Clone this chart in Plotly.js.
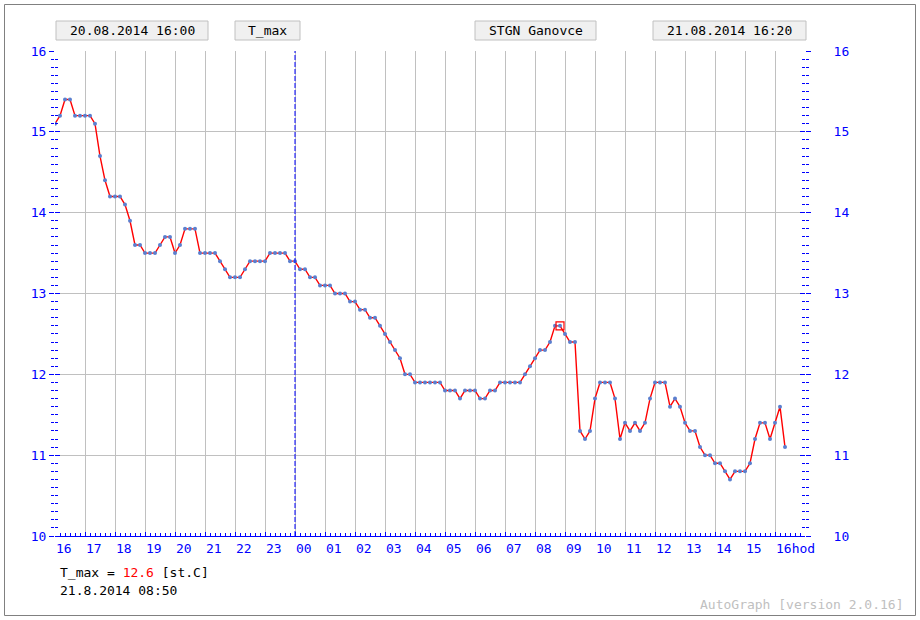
<!DOCTYPE html>
<html>
<head>
<meta charset="utf-8">
<script src="https://cdn.plot.ly/plotly-3.0.1.min.js"></script>
<style>
html,body{margin:0;padding:0;background:#fff;}
#chart{width:920px;height:620px;}
</style>
</head>
<body>
<div id="chart"></div>
<script>
// ---- data ----
const startTime = '2014-08-20 16:00';
const stepMinutes = 10;
const station = 'STGN Ganovce';
const quantity = 'T_max';
const unit = '[st.C]';
const headerStart = '20.08.2014 16:00';
const headerEnd = '21.08.2014 16:20';
const selectedTime = '2014-08-21 08:50';
const dayMarker = '2014-08-21 00:00';

const values = [
  15.1, 15.2, 15.4, 15.4, 15.2, 15.2, 15.2, 15.2, 15.1, 14.7, 14.4, 14.2,   // 16:00-17:50
  14.2, 14.2, 14.1, 13.9, 13.6, 13.6, 13.5, 13.5, 13.5, 13.6, 13.7, 13.7,   // 18:00-19:50
  13.5, 13.6, 13.8, 13.8, 13.8, 13.5, 13.5, 13.5, 13.5, 13.4, 13.3, 13.2,   // 20:00-21:50
  13.2, 13.2, 13.3, 13.4, 13.4, 13.4, 13.4, 13.5, 13.5, 13.5, 13.5, 13.4,   // 22:00-23:50
  13.4, 13.3, 13.3, 13.2, 13.2, 13.1, 13.1, 13.1, 13.0, 13.0, 13.0, 12.9,   // 00:00-01:50
  12.9, 12.8, 12.8, 12.7, 12.7, 12.6, 12.5, 12.4, 12.3, 12.2, 12.0, 12.0,   // 02:00-03:50
  11.9, 11.9, 11.9, 11.9, 11.9, 11.9, 11.8, 11.8, 11.8, 11.7, 11.8, 11.8,   // 04:00-05:50
  11.8, 11.7, 11.7, 11.8, 11.8, 11.9, 11.9, 11.9, 11.9, 11.9, 12.0, 12.1,   // 06:00-07:50
  12.2, 12.3, 12.3, 12.4, 12.6, 12.6, 12.5, 12.4, 12.4, 11.3, 11.2, 11.3,   // 08:00-09:50
  11.7, 11.9, 11.9, 11.9, 11.7, 11.2, 11.4, 11.3, 11.4, 11.3, 11.4, 11.7,   // 10:00-11:50
  11.9, 11.9, 11.9, 11.6, 11.7, 11.6, 11.4, 11.3, 11.3, 11.1, 11.0, 11.0,   // 12:00-13:50
  10.9, 10.9, 10.8, 10.7, 10.8, 10.8, 10.8, 10.9, 11.2, 11.4, 11.4, 11.2,   // 14:00-15:50
  11.4, 11.6, 11.1                                                          // 16:00-16:20
];

const hourTicks = [
  '2014-08-20 16:00','2014-08-20 17:00','2014-08-20 18:00','2014-08-20 19:00','2014-08-20 20:00',
  '2014-08-20 21:00','2014-08-20 22:00','2014-08-20 23:00','2014-08-21 00:00','2014-08-21 01:00',
  '2014-08-21 02:00','2014-08-21 03:00','2014-08-21 04:00','2014-08-21 05:00','2014-08-21 06:00',
  '2014-08-21 07:00','2014-08-21 08:00','2014-08-21 09:00','2014-08-21 10:00','2014-08-21 11:00',
  '2014-08-21 12:00','2014-08-21 13:00','2014-08-21 14:00','2014-08-21 15:00','2014-08-21 16:00'
];
const hourLabels = ['16','17','18','19','20','21','22','23','00','01','02','03','04','05','06',
  '07','08','09','10','11','12','13','14','15','16hod'];
const xRange = ['2014-08-20 16:00', '2014-08-21 17:00'];
const yRange = [10, 16];

// ---- build times ----
function pad(n){return (n<10?'0':'')+n;}
const t0 = Date.UTC(2014, 7, 20, 16, 0);
const times = values.map((v,i)=>{
  const d = new Date(t0 + i*stepMinutes*60000);
  return d.getUTCFullYear()+'-'+pad(d.getUTCMonth()+1)+'-'+pad(d.getUTCDate())+' '+pad(d.getUTCHours())+':'+pad(d.getUTCMinutes());
});
const selIdx = times.indexOf(selectedTime);
const selDate = new Date(t0 + selIdx*stepMinutes*60000);
const selLabel = selDate.getUTCDate()+'.'+(selDate.getUTCMonth()+1)+'.'+selDate.getUTCFullYear()+' '+pad(selDate.getUTCHours())+':'+pad(selDate.getUTCMinutes());

// ---- layout geometry ----
const L=55, T=51, W=750, H=485;
const px = p => (p-L)/W;
const py = p => (T+H-p)/H;
const FONT = 'DejaVu Sans Mono, Liberation Mono, monospace';
const BLUE = '#0000ff';

const traces = [
  {
    x: times, y: values, type: 'scatter', mode: 'lines+markers',
    line: {color: '#ff0000', width: 1.4},
    marker: {color: '#5a7fcf', size: 4, symbol: 'circle'},
    hoverinfo: 'x+y', showlegend: false
  },
  {
    x: [times[selIdx]], y: [values[selIdx]], type: 'scatter', mode: 'markers',
    marker: {symbol: 'square-open', size: 8, color: '#ff0000', line: {width: 1.2, color: '#ff0000'}},
    hoverinfo: 'skip', showlegend: false
  }
];
// empty helper traces so that the extra tick axes get drawn
['y2','y3','y4'].forEach(ax => traces.push({x: [xRange[0]], y: [null], yaxis: ax, type: 'scatter',
  mode: 'lines', hoverinfo: 'skip', showlegend: false}));

function box(x0,x1,y0,y1,text){
  shapes.push({type:'rect', xref:'paper', yref:'paper', x0:px(x0), x1:px(x1), y0:py(y1), y1:py(y0),
    fillcolor:'#f0f0f0', line:{color:'#c0c0c0', width:1}, layer:'above'});
  annotations.push({xref:'paper', yref:'paper', x:px((x0+x1)/2), y:py((y0+y1)/2), text:text,
    showarrow:false, xanchor:'center', yanchor:'middle', font:{family:FONT, size:13, color:'#000'}});
}
const shapes = [];
const annotations = [];
shapes.push({type:'rect', xref:'paper', yref:'paper', x0:px(4.5), x1:px(915.5), y0:py(615.5), y1:py(4.5),
  line:{color:'#808080', width:1}, fillcolor:'rgba(0,0,0,0)', layer:'below'});
box(56,208,21,40,headerStart);
box(235,300,21,40,quantity);
box(475,596,21,40,station);
box(653,806,21,40,headerEnd);
shapes.push({type:'line', xref:'x', yref:'paper', x0:dayMarker, x1:dayMarker, y0:0, y1:1,
  line:{color:BLUE, width:1, dash:'5px,2px'}});

annotations.push({xref:'paper', yref:'paper', x:px(58), y:py(572), xanchor:'left', yanchor:'middle', showarrow:false,
  text: quantity+' = <span style="color:#ff0000">'+values[selIdx].toFixed(1)+'</span> '+unit,
  font:{family:FONT, size:13, color:'#000'}});
annotations.push({xref:'paper', yref:'paper', x:px(58), y:py(590), xanchor:'left', yanchor:'middle', showarrow:false,
  text: selLabel, font:{family:FONT, size:13, color:'#000'}});
annotations.push({xref:'paper', yref:'paper', x:px(906), y:py(604), xanchor:'right', yanchor:'middle', showarrow:false,
  text: 'AutoGraph [version 2.0.16]', font:{family:FONT, size:13, color:'#c0c0c0'}});

const yCommon = {range: yRange, dtick: 1, tick0: 10, fixedrange: true, zeroline: false, showline: false,
  tickcolor: BLUE, tickfont: {family: FONT, size: 13, color: BLUE}};

const layout = {
  width: 920, height: 620,
  margin: {l: L, r: 920-L-W, t: T, b: 620-T-H, pad: 0},
  paper_bgcolor: '#ffffff', plot_bgcolor: '#ffffff',
  showlegend: false,
  font: {family: FONT, size: 13, color: '#000'},
  xaxis: {
    type: 'date', range: xRange, tickmode: 'array', tickvals: hourTicks, ticktext: hourLabels,
    ticklabelposition: 'outside right', tickangle: 0,
    tickfont: {family: FONT, size: 13, color: BLUE},
    showgrid: true, gridcolor: '#c0c0c0', gridwidth: 1,
    showline: true, linecolor: BLUE, linewidth: 1,
    ticks: 'inside', ticklen: 4, tickcolor: BLUE,
    minor: {tickmode: 'linear', tick0: '2014-08-20 16:00', dtick: 600000, ticks: 'inside', ticklen: 3, tickcolor: BLUE, showgrid: false},
    zeroline: false, fixedrange: true
  },
  yaxis: Object.assign({}, yCommon, {
    side: 'left', showgrid: true, gridcolor: '#c0c0c0', gridwidth: 1,
    ticks: 'outside', ticklen: 5,
    minor: {dtick: 0.1, ticks: 'outside', ticklen: 3, tickcolor: BLUE, showgrid: false}
  }),
  yaxis2: Object.assign({}, yCommon, {
    overlaying: 'y', side: 'right', anchor: 'x', showgrid: false,
    ticks: 'outside', ticklen: 5, ticklabelstandoff: 20,
    minor: {dtick: 0.1, ticks: 'outside', ticklen: 3, tickcolor: BLUE, showgrid: false}
  }),
  yaxis3: Object.assign({}, yCommon, {
    overlaying: 'y', side: 'left', anchor: 'x', showgrid: false, showticklabels: false,
    ticks: 'inside', ticklen: 5,
    minor: {dtick: 0.1, ticks: 'inside', ticklen: 3, tickcolor: BLUE, showgrid: false}
  }),
  yaxis4: Object.assign({}, yCommon, {
    overlaying: 'y', side: 'right', anchor: 'x', showgrid: false, showticklabels: false,
    ticks: 'inside', ticklen: 5,
    minor: {dtick: 0.1, ticks: 'inside', ticklen: 3, tickcolor: BLUE, showgrid: false}
  }),
  shapes: shapes,
  annotations: annotations
};

Plotly.newPlot('chart', traces, layout, {staticPlot: true, displayModeBar: false});
</script>
</body>
</html>
